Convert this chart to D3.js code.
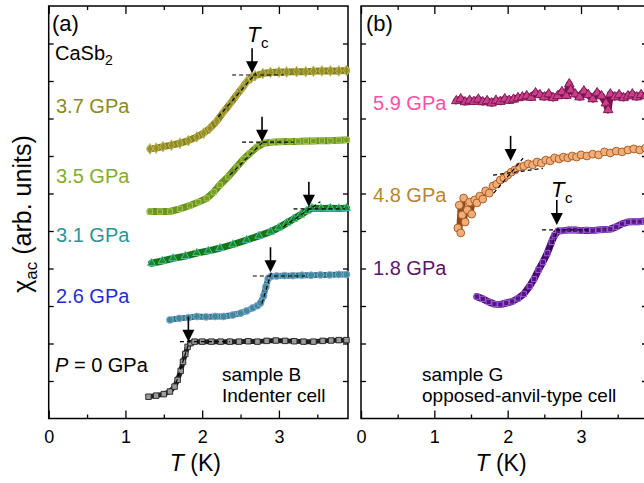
<html>
<head>
<title>CaSb2 chi_ac under pressure</title>
<script src="https://d3js.org/d3.v7.min.js"></script>
<style>
body { margin: 0; background: #fff; }
svg { display: block; font-family: 'Liberation Sans', Arial, sans-serif; }
</style>
</head>
<body>
<div id="chart"></div>
<script>
// ---- panel (a): sample B, indenter cell ----
var t37  = [1.32,1.40,1.49,1.60,1.71,1.82,1.93,2.02,2.10,2.19,2.28,2.37,2.45,2.52,2.58,2.64,2.69,2.79,2.89,3.00,3.10,3.23,3.35,3.45,3.56,3.67,3.78,3.88];
var chi37 = [7.19,7.21,7.25,7.29,7.34,7.41,7.51,7.61,7.74,7.93,8.18,8.41,8.63,8.81,8.98,9.08,9.14,9.20,9.23,9.24,9.24,9.25,9.25,9.26,9.27,9.27,9.27,9.28];

var t35  = [1.32,1.45,1.58,1.71,1.84,1.95,2.06,2.15,2.23,2.34,2.45,2.54,2.62,2.71,2.80,2.91,3.02,3.14,3.25,3.35,3.45,3.56,3.67,3.78,3.88];
var chi35 = [5.52,5.52,5.52,5.59,5.68,5.77,5.87,6.04,6.23,6.45,6.71,6.92,7.07,7.23,7.34,7.37,7.38,7.39,7.39,7.40,7.40,7.41,7.41,7.42,7.43];

var t31  = [1.34,1.48,1.62,1.78,1.93,2.08,2.23,2.40,2.58,2.74,2.89,3.00,3.10,3.19,3.28,3.36,3.43,3.55,3.67,3.78,3.88];
var chi31 = [4.14,4.20,4.27,4.33,4.41,4.47,4.54,4.64,4.76,4.87,4.98,5.09,5.21,5.32,5.43,5.53,5.61,5.60,5.61,5.60,5.61];

var t26  = [1.58,1.70,1.82,1.93,2.05,2.17,2.28,2.40,2.50,2.58,2.66,2.72,2.76,2.80,2.83,2.86,2.90,2.97,3.07,3.18,3.30,3.42,3.54,3.66,3.78,3.88];
var chi26 = [2.63,2.67,2.69,2.72,2.71,2.72,2.72,2.76,2.81,2.87,2.95,3.01,3.08,3.27,3.51,3.73,3.79,3.80,3.81,3.81,3.82,3.82,3.83,3.83,3.84,3.84];

var t0   = [1.30,1.40,1.50,1.58,1.64,1.68,1.72,1.75,1.78,1.81,1.85,1.90,2.00,2.12,2.24,2.36,2.48,2.60,2.72,2.84,2.96,3.08,3.20,3.32,3.45,3.57,3.68,3.78,3.88];
var chi0  = [0.58,0.61,0.65,0.72,0.85,1.03,1.27,1.51,1.72,1.91,2.01,2.05,2.05,2.05,2.05,2.05,2.05,2.06,2.05,2.07,2.08,2.07,2.06,2.05,2.05,2.07,2.08,2.09,2.09];

// ---- panel (b): sample G, opposed-anvil-type cell ----
var t59  = [1.30,1.36,1.42,1.48,1.54,1.60,1.66,1.72,1.78,1.84,1.90,1.96,2.02,2.08,2.14,2.20,2.26,2.32,2.38,2.44,2.50,2.56,2.62,2.68,2.74,2.80,2.84,2.86,2.92,2.98,3.04,3.10,3.16,3.22,3.28,3.34,3.37,3.40,3.46,3.52,3.58,3.64,3.70,3.76,3.82,3.88];
var chi59 = [8.47,8.52,8.44,8.48,8.45,8.51,8.44,8.47,8.41,8.48,8.45,8.52,8.48,8.51,8.55,8.57,8.60,8.56,8.68,8.63,8.57,8.65,8.55,8.60,8.71,8.61,8.92,8.76,8.65,8.57,8.73,8.63,8.52,8.68,8.60,8.41,8.23,8.65,8.57,8.63,8.55,8.60,8.65,8.57,8.63,8.60];

var t48  = [1.32,1.34,1.36,1.38,1.40,1.42,1.45,1.48,1.51,1.55,1.58,1.62,1.66,1.70,1.75,1.80,1.85,1.90,1.95,2.00,2.05,2.10,2.16,2.22,2.28,2.34,2.40,2.46,2.52,2.58,2.64,2.70,2.76,2.82,2.88,2.94,3.00,3.08,3.16,3.24,3.32,3.40,3.48,3.56,3.64,3.72,3.80,3.88];
var chi48 = [5.08,5.69,4.95,5.43,5.88,5.24,5.56,5.77,5.45,5.83,5.75,5.93,5.85,6.07,6.01,6.20,6.25,6.36,6.41,6.49,6.57,6.63,6.71,6.73,6.79,6.76,6.84,6.81,6.89,6.87,6.95,6.92,6.97,6.95,7.00,6.97,7.03,7.00,7.05,7.03,7.11,7.08,7.13,7.11,7.16,7.19,7.16,7.21];

var t18  = [1.58,1.66,1.74,1.82,1.90,1.98,2.06,2.14,2.22,2.30,2.36,2.42,2.48,2.54,2.60,2.64,2.69,2.76,2.84,2.92,3.00,3.08,3.16,3.24,3.32,3.40,3.48,3.56,3.64,3.72,3.80,3.88];
var chi18 = [3.25,3.19,3.11,3.05,3.04,3.08,3.12,3.20,3.32,3.53,3.72,3.96,4.17,4.41,4.71,4.89,5.00,5.01,5.03,5.03,5.01,5.02,5.01,5.03,5.04,5.05,5.11,5.19,5.24,5.25,5.25,5.27];

// Tc arrows (T, chi at the arrow tip)
var tcA  = [2.65, 2.78, 3.39, 2.89, 1.82];
var tipA = [9.21, 7.38, 5.65, 3.90, 2.05];
var tcB  = [2.04, 2.67];
var tipB = [6.87, 5.16];

// dashed construction lines [T1, chi1, T2, chi2]
var guidesA = [[2.39,9.16,3.06,9.16],[2.21,8.04,2.70,9.21],
               [2.52,7.37,3.19,7.37],[2.36,6.49,2.79,7.37],
               [3.19,5.59,3.86,5.59],[3.06,5.12,3.54,5.78],
               [2.66,3.80,3.34,3.80],[2.78,3.07,2.91,3.96],
               [1.71,2.05,2.36,2.05],[1.66,0.95,1.84,2.10]];
var guidesB = [[1.80,6.49,2.48,6.67],[1.81,6.01,2.21,6.94],
               [2.47,5.03,3.13,5.03],[2.58,4.49,2.69,5.08]];

var xTicks = [0, 1, 2, 3];
var xMinor = [0.5, 1.5, 2.5, 3.5];
var yTicks = [1,2,3,4,5,6,7,8,9,10];

var svg = d3.select("#chart").append("svg")
  .attr("width", 644).attr("height", 483);
svg.append("rect").attr("width", 644).attr("height", 483).attr("fill", "#fff");

var xA = d3.scaleLinear().domain([0, 3.9]).range([48.7, 348]);
var xB = d3.scaleLinear().domain([0, 3.9]).range([361, 647]);
var y  = d3.scaleLinear().domain([0, 11]).range([418.5, 6]);

function drawFrame(x) {
  var g = svg.append("g");
  var x0 = x.range()[0], x1 = x.range()[1];

  g.append("g").attr("class", "xaxis")
    .attr("transform", "translate(0," + y.range()[0] + ")")
    .call(d3.axisBottom(x).tickValues(xTicks).tickSizeInner(-8).tickSizeOuter(0)
      .tickPadding(12).tickFormat(d3.format("d")));
  g.append("g")
    .attr("transform", "translate(0," + y.range()[0] + ")")
    .call(d3.axisBottom(x).tickValues(xMinor).tickSize(-4).tickFormat(""));
  g.append("g")
    .attr("transform", "translate(0," + y.range()[1] + ")")
    .call(d3.axisTop(x).tickValues(xTicks).tickSize(-8).tickFormat(""));
  g.append("g")
    .attr("transform", "translate(0," + y.range()[1] + ")")
    .call(d3.axisTop(x).tickValues(xMinor).tickSize(-4).tickFormat(""));
  g.append("g")
    .attr("transform", "translate(" + x0 + ",0)")
    .call(d3.axisLeft(y).tickValues(yTicks).tickSize(-5).tickFormat(""));
  g.append("g")
    .attr("transform", "translate(" + x1 + ",0)")
    .call(d3.axisRight(y).tickValues(yTicks).tickSize(-5).tickFormat(""));

  g.selectAll(".domain").remove();
  g.selectAll(".tick line").attr("stroke", "#000").attr("stroke-width", 1.3);
  g.selectAll(".xaxis text").style("font-size", "18px").attr("fill", "#000");

  g.append("rect")
    .attr("x", x0).attr("y", y.range()[1])
    .attr("width", x1 - x0).attr("height", y.range()[0] - y.range()[1])
    .attr("fill", "none").attr("stroke", "#000").attr("stroke-width", 1.5);

  // axis title  T (K)
  var t = svg.append("text")
    .attr("x", (x0 + x1) / 2 - 3).attr("y", 471)
    .attr("text-anchor", "middle").style("font-size", "23px");
  t.append("tspan").style("font-style", "italic").text("T");
  t.append("tspan").text(" (K)");
}

function drawSeries(x, t, chi, band, fill, edge, shape, size, bandWidth) {
  var pts = t.map(function(d, i) { return [d, chi[i]]; });
  var line = d3.line()
    .x(function(d) { return x(d[0]); })
    .y(function(d) { return y(d[1]); });

  svg.append("path").datum(pts)
    .attr("d", line)
    .attr("fill", "none").attr("stroke", band)
    .attr("stroke-width", bandWidth)
    .attr("stroke-linejoin", "round").attr("stroke-linecap", "round");

  svg.append("g").selectAll("path")
    .data(pts)
    .enter().append("path")
    .attr("transform", function(d) { return "translate(" + x(d[0]) + "," + y(d[1]) + ")"; })
    .attr("d", d3.symbol().type(shape).size(size))
    .attr("fill", fill)
    .attr("stroke", edge)
    .attr("stroke-width", 0.9);
}

function drawGuides(x, guides) {
  svg.append("g").selectAll("line")
    .data(guides)
    .enter().append("line")
    .attr("x1", function(d) { return x(d[0]); })
    .attr("y1", function(d) { return y(d[1]); })
    .attr("x2", function(d) { return x(d[2]); })
    .attr("y2", function(d) { return y(d[3]); })
    .attr("stroke", "#000").attr("stroke-width", 1.2)
    .attr("stroke-dasharray", "4,3");
}

function drawArrows(x, tc, tip) {
  var g = svg.append("g");
  tc.forEach(function(d, i) {
    var ax = x(d), ay = y(tip[i]);
    g.append("line")
      .attr("x1", ax).attr("x2", ax)
      .attr("y1", ay - 25).attr("y2", ay - 8)
      .attr("stroke", "#000").attr("stroke-width", 1.6);
    g.append("path")
      .attr("d", "M" + (ax - 6) + "," + (ay - 12) + "L" + (ax + 6) + "," + (ay - 12) + "L" + ax + "," + ay + "Z")
      .attr("fill", "#000");
  });
}

function label(x, yy, txt, color, size) {
  return svg.append("text")
    .attr("x", x).attr("y", yy)
    .style("font-size", (size || 20) + "px")
    .attr("fill", color || "#000")
    .text(txt);
}

function tcLabel(x, yy) {
  svg.append("text").attr("x", x).attr("y", yy)
    .style("font-size", "22px").style("font-style", "italic").text("T");
  svg.append("text").attr("x", x + 14).attr("y", yy + 6)
    .style("font-size", "15px").text("c");
}

drawFrame(xA);
drawFrame(xB);

// panel (a) curves
drawSeries(xA, t37, chi37, "#8a8420", "#96902a", "#c4be5c", d3.symbolDiamond, 34, 7);
drawSeries(xA, t35, chi35, "#6a921c", "#76a024", "#aacb5c", d3.symbolSquare, 28, 7);
drawSeries(xA, t31, chi31, "#167616", "#1f8a1f", "#4ccabc", d3.symbolTriangle, 30, 7);
drawSeries(xA, t26, chi26, "#2b7c82", "#3d8c94", "#9aa6ea", d3.symbolCircle, 38, 6);
drawSeries(xA, t0,  chi0,  "#1e1e1e", "#9a9a9a", "#222", d3.symbolSquare, 30, 5);

// panel (b) curves
drawSeries(xB, t59, chi59, "#7a1350", "#c8408a", "#7a1350", d3.symbolTriangle, 40, 7);
drawSeries(xB, t48, chi48, "#8e4a17", "#f2ae78", "#a0561e", d3.symbolCircle, 48, 3);
drawSeries(xB, t18, chi18, "#4a0a72", "#5a1585", "#a36ae6", d3.symbolSquare, 28, 7);

drawGuides(xA, guidesA);
drawGuides(xB, guidesB);
drawArrows(xA, tcA, tipA);
drawArrows(xB, tcB, tipB);

tcLabel(247, 42);
tcLabel(551, 197);

// panel labels and annotations
label(52, 31, "(a)", "#000", 22);
label(366, 31, "(b)", "#000", 22);

var cs = label(55, 60, "CaSb", "#000", 20);
cs.append("tspan").attr("dy", 5).style("font-size", "14px").text("2");

label(56, 113, "3.7 GPa", "#8b8a1e");
label(56, 183, "3.5 GPa", "#86ab2c");
label(56, 242, "3.1 GPa", "#2a9595");
label(56, 303, "2.6 GPa", "#1f2fcf");
var p0 = label(55, 372, "", "#000");
p0.append("tspan").style("font-style", "italic").text("P");
p0.append("tspan").text(" = 0 GPa");

label(222, 381, "sample B", "#000", 19);
label(222, 402, "Indenter cell", "#000", 19);

label(373, 110, "5.9 GPa", "#ff4fa2");
label(373, 202, "4.8 GPa", "#b8862e");
label(373, 275, "1.8 GPa", "#5b1568");

label(422, 381, "sample G", "#000", 19);
label(422, 402, "opposed-anvil-type cell", "#000", 19);

// y axis title
var yl = svg.append("text")
  .attr("transform", "translate(31,214) rotate(-90)")
  .attr("text-anchor", "middle")
  .style("font-size", "25px");
yl.append("tspan").text("\u03c7");
yl.append("tspan").attr("dy", 6).style("font-size", "17px").text("ac");
yl.append("tspan").attr("dy", -6).text(" (arb. units)");
</script>
</body>
</html>
